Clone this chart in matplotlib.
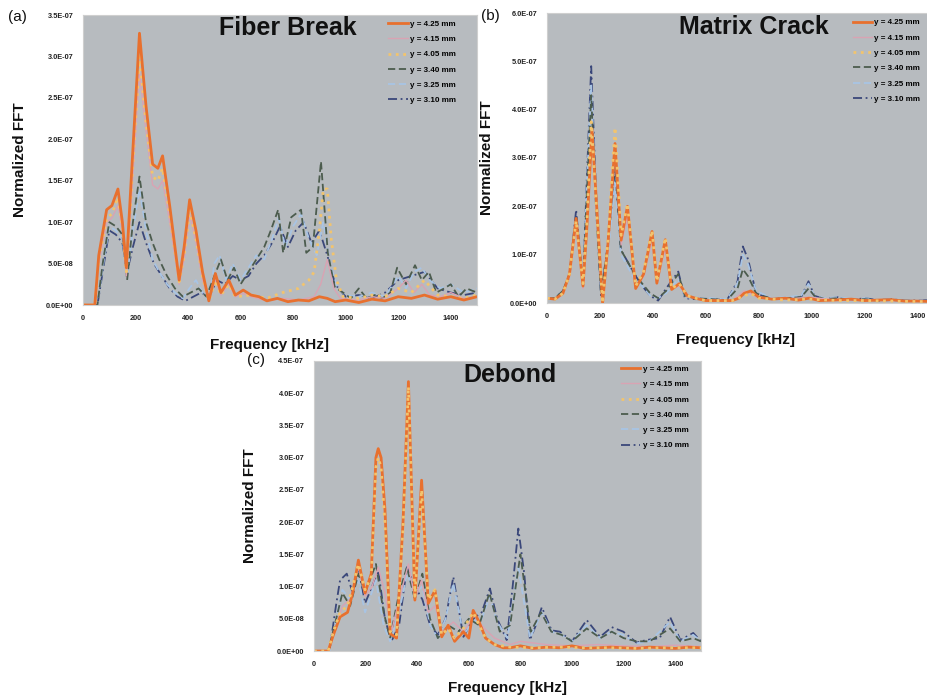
import matplotlib
matplotlib.use("Agg")
import matplotlib.pyplot as plt
from matplotlib.lines import Line2D
from matplotlib.ticker import FuncFormatter, MultipleLocator

plt.rcParams['font.family'] = ['Liberation Sans', 'DejaVu Sans']

LABELS = ["y = 4.25 mm", "y = 4.15 mm", "y = 4.05 mm", "y = 3.40 mm", "y = 3.25 mm", "y = 3.10 mm"]
TITLES = ["Fiber Break", "Matrix Crack", "Debond"]
PANEL_TAGS = ["(a)", "(b)", "(c)"]
SCALE = 1e-7

# ---------------- Panel (a) Fiber Break (values in 1e-7) ----------------
a425_f = [0, 45, 60, 90, 110, 133, 150, 165, 185, 215, 240, 265, 285, 303, 330, 366, 385, 406, 430, 455, 479, 504, 525, 555, 580, 610, 640, 670, 700, 740, 780, 820, 860, 900, 930, 960, 1000, 1050, 1100, 1150, 1200, 1250, 1300, 1350, 1400, 1450, 1500]
a425_v = [0, 0, 0.6, 1.15, 1.2, 1.4, 1.0, 0.45, 1.6, 3.28, 2.4, 1.7, 1.65, 1.8, 1.2, 0.3, 0.7, 1.27, 0.9, 0.4, 0.05, 0.38, 0.15, 0.3, 0.12, 0.18, 0.12, 0.1, 0.05, 0.08, 0.04, 0.06, 0.05, 0.1, 0.08, 0.04, 0.06, 0.03, 0.07, 0.05, 0.1, 0.08, 0.12, 0.07, 0.1, 0.06, 0.1]
a415_f = [0, 45, 60, 90, 110, 133, 150, 165, 185, 215, 240, 265, 285, 303, 330, 366, 385, 406, 430, 455, 479, 504, 525, 555, 580, 610, 640, 700, 760, 820, 880, 905, 930, 955, 980, 1050, 1100, 1150, 1200, 1230, 1260, 1290, 1320, 1360, 1400, 1450, 1500]
a415_v = [0, 0, 0.5, 1.0, 1.05, 1.2, 0.9, 0.35, 1.3, 2.8, 2.1, 1.45, 1.4, 1.5, 1.0, 0.25, 0.55, 1.1, 0.75, 0.3, 0.05, 0.3, 0.12, 0.25, 0.1, 0.14, 0.1, 0.05, 0.08, 0.06, 0.1, 0.25, 0.55, 0.2, 0.08, 0.06, 0.1, 0.08, 0.2, 0.3, 0.15, 0.25, 0.12, 0.1, 0.15, 0.08, 0.1]
a405_f = [0, 45, 60, 90, 110, 133, 150, 165, 185, 215, 240, 265, 285, 303, 330, 366, 385, 406, 430, 455, 479, 504, 525, 555, 580, 640, 700, 760, 820, 860, 880, 900, 915, 930, 945, 965, 990, 1050, 1100, 1150, 1200, 1250, 1300, 1350, 1400, 1450, 1500]
a405_v = [0, 0, 0.55, 1.05, 1.1, 1.3, 0.95, 0.4, 1.45, 3.0, 2.2, 1.55, 1.5, 1.65, 1.1, 0.28, 0.6, 1.15, 0.8, 0.35, 0.05, 0.3, 0.12, 0.25, 0.1, 0.12, 0.08, 0.15, 0.2, 0.3, 0.4, 0.9, 1.4, 1.4, 0.8, 0.3, 0.1, 0.08, 0.12, 0.1, 0.2, 0.15, 0.3, 0.12, 0.1, 0.08, 0.12]
a340_f = [0, 55, 75, 100, 125, 150, 168, 190, 215, 240, 265, 290, 320, 350, 380, 410, 440, 470, 500, 525, 550, 575, 600, 630, 660, 690, 715, 743, 762, 793, 830, 850, 875, 906, 932, 958, 990, 1020, 1050, 1080, 1110, 1140, 1170, 1196, 1230, 1264, 1290, 1317, 1345, 1375, 1400, 1430, 1460, 1500]
a340_v = [0, 0, 0.5, 1.0, 0.95, 0.85, 0.3, 1.0, 1.55, 1.0, 0.75, 0.55, 0.35, 0.2, 0.1, 0.15, 0.2, 0.1, 0.35, 0.55, 0.3, 0.45, 0.25, 0.4, 0.55, 0.7, 0.9, 1.15, 0.63, 1.06, 1.15, 0.63, 0.7, 1.73, 0.63, 0.22, 0.15, 0.08, 0.2, 0.08, 0.12, 0.08, 0.15, 0.45, 0.25, 0.48, 0.3, 0.4, 0.15, 0.2, 0.25, 0.1, 0.2, 0.15]
a325_f = [0, 55, 75, 100, 125, 150, 168, 190, 215, 240, 265, 290, 320, 350, 380, 405, 430, 455, 480, 500, 520, 545, 570, 600, 630, 660, 690, 720, 745, 770, 800, 830, 860, 890, 915, 940, 970, 1000, 1050, 1100, 1150, 1200, 1230, 1260, 1290, 1320, 1360, 1400, 1450, 1500]
a325_v = [0, 0, 0.45, 0.95, 0.9, 0.8, 0.35, 0.9, 1.4, 0.9, 0.55, 0.4, 0.25, 0.15, 0.08, 0.2, 0.3, 0.15, 0.05, 0.5, 0.6, 0.3, 0.5, 0.3, 0.45, 0.6, 0.55, 0.8, 1.05, 0.7, 0.95, 1.1, 0.8, 0.6, 1.0, 0.5, 0.2, 0.12, 0.1, 0.15, 0.1, 0.35, 0.2, 0.4, 0.45, 0.3, 0.2, 0.25, 0.15, 0.2]
a310_f = [0, 55, 75, 100, 125, 150, 168, 190, 215, 240, 270, 300, 330, 360, 390, 420, 450, 480, 510, 540, 570, 600, 630, 660, 690, 720, 750, 780, 810, 840, 870, 900, 930, 960, 1000, 1050, 1100, 1150, 1200, 1250, 1300, 1350, 1400, 1450, 1500]
a310_v = [0, 0, 0.4, 0.9, 0.85, 0.75, 0.4, 0.7, 1.0, 0.75, 0.5, 0.35, 0.2, 0.1, 0.05, 0.1, 0.15, 0.1, 0.3, 0.25, 0.35, 0.3, 0.35, 0.5, 0.6, 0.75, 0.95, 0.7, 0.9, 1.0, 0.75, 0.9, 0.6, 0.25, 0.1, 0.12, 0.08, 0.15, 0.3, 0.35, 0.4, 0.2, 0.15, 0.12, 0.15]

# ---------------- Panel (b) Matrix Crack (values in 1e-7) ----------------
b425_f = [0, 30, 60, 85, 110, 136, 150, 170, 190, 210, 230, 257, 280, 304, 335, 365, 397, 415, 447, 471, 500, 530, 560, 600, 650, 700, 725, 745, 770, 800, 850, 900, 950, 990, 1030, 1080, 1150, 1200, 1250, 1300, 1350, 1400, 1450, 1500]
b425_v = [0.1, 0.08, 0.2, 0.6, 1.75, 0.35, 1.5, 3.6, 1.8, 0.0, 1.2, 3.3, 1.3, 2.0, 0.3, 0.6, 1.48, 0.41, 1.31, 0.28, 0.4, 0.15, 0.1, 0.05, 0.05, 0.05, 0.1, 0.2, 0.25, 0.12, 0.08, 0.1, 0.06, 0.1, 0.05, 0.06, 0.08, 0.05, 0.06, 0.07, 0.04, 0.04, 0.03, 0.03]
b415_f = [0, 30, 60, 85, 110, 136, 150, 170, 190, 210, 230, 257, 280, 304, 335, 365, 397, 415, 447, 471, 500, 530, 560, 600, 700, 745, 770, 800, 900, 990, 1100, 1200, 1300, 1400, 1500]
b415_v = [0.1, 0.08, 0.2, 0.55, 1.6, 0.3, 1.4, 3.4, 1.6, 0.05, 1.1, 3.1, 1.2, 1.8, 0.35, 0.55, 1.3, 0.4, 1.15, 0.3, 0.35, 0.15, 0.1, 0.06, 0.05, 0.25, 0.2, 0.1, 0.08, 0.12, 0.06, 0.06, 0.05, 0.04, 0.03]
b405_f = [0, 30, 60, 85, 110, 136, 150, 167, 190, 210, 232, 257, 280, 304, 335, 365, 397, 415, 447, 471, 500, 530, 560, 600, 700, 745, 770, 800, 900, 990, 1100, 1200, 1300, 1400, 1500]
b405_v = [0.1, 0.08, 0.2, 0.6, 1.7, 0.4, 1.6, 3.75, 1.7, 0.0, 1.4, 3.63, 1.4, 2.05, 0.35, 0.65, 1.5, 0.45, 1.35, 0.3, 0.4, 0.15, 0.1, 0.05, 0.05, 0.15, 0.2, 0.1, 0.06, 0.08, 0.05, 0.05, 0.04, 0.03, 0.03]
b340_f = [0, 30, 60, 85, 110, 136, 150, 167, 185, 204, 230, 257, 279, 300, 330, 360, 390, 420, 450, 496, 521, 560, 620, 680, 720, 740, 760, 790, 850, 900, 960, 988, 1010, 1050, 1100, 1150, 1200, 1250, 1300, 1350, 1400, 1450, 1500]
b340_v = [0.1, 0.1, 0.25, 0.6, 1.8, 0.4, 2.2, 4.3, 2.0, 0.2, 1.2, 3.0, 1.1, 0.9, 0.6, 0.4, 0.2, 0.1, 0.25, 0.6, 0.15, 0.1, 0.08, 0.06, 0.3, 0.7, 0.55, 0.2, 0.08, 0.1, 0.12, 0.3, 0.15, 0.08, 0.1, 0.06, 0.08, 0.05, 0.06, 0.05, 0.04, 0.05, 0.04]
b325_f = [0, 30, 60, 85, 110, 136, 150, 167, 185, 204, 230, 257, 279, 300, 330, 360, 390, 420, 450, 496, 521, 560, 620, 680, 720, 740, 760, 790, 850, 900, 960, 988, 1010, 1050, 1100, 1150, 1200, 1250, 1300, 1350, 1400, 1450, 1500]
b325_v = [0.12, 0.1, 0.25, 0.55, 1.7, 0.45, 2.4, 4.5, 2.2, 0.25, 1.0, 2.5, 1.0, 0.8, 0.5, 0.35, 0.15, 0.1, 0.2, 0.5, 0.12, 0.1, 0.1, 0.08, 0.4, 1.0, 0.8, 0.25, 0.1, 0.12, 0.15, 0.4, 0.15, 0.1, 0.12, 0.08, 0.1, 0.06, 0.08, 0.06, 0.05, 0.06, 0.05]
b310_f = [0, 30, 60, 85, 110, 136, 150, 167, 185, 204, 230, 257, 279, 300, 330, 360, 390, 420, 450, 496, 521, 560, 620, 680, 720, 740, 760, 790, 850, 900, 960, 988, 1010, 1050, 1100, 1150, 1200, 1250, 1300, 1350, 1400, 1450, 1500]
b310_v = [0.1, 0.1, 0.25, 0.55, 1.93, 0.35, 2.5, 4.9, 2.3, 0.14, 1.2, 2.8, 1.1, 0.9, 0.6, 0.35, 0.15, 0.05, 0.3, 0.65, 0.1, 0.08, 0.08, 0.06, 0.45, 1.17, 0.9, 0.2, 0.08, 0.1, 0.12, 0.45, 0.15, 0.08, 0.12, 0.06, 0.1, 0.06, 0.08, 0.05, 0.05, 0.06, 0.05]

# ---------------- Panel (c) Debond (values in 1e-7) ----------------
c425_f = [0, 55, 75, 101, 130, 150, 172, 198, 222, 240, 249, 260, 275, 295, 320, 345, 366, 391, 417, 443, 469, 495, 520, 545, 579, 600, 617, 640, 665, 700, 733, 760, 800, 850, 900, 950, 1000, 1050, 1100, 1150, 1200, 1250, 1300, 1350, 1400, 1450, 1500]
c425_v = [0, 0, 0.25, 0.53, 0.6, 0.9, 1.41, 0.9, 1.2, 3.0, 3.14, 3.0, 2.2, 0.27, 0.2, 2.0, 4.18, 0.79, 2.65, 0.74, 0.94, 0.22, 0.4, 0.15, 0.3, 0.2, 0.63, 0.45, 0.2, 0.1, 0.05, 0.05, 0.08, 0.04, 0.06, 0.05, 0.08, 0.04, 0.05, 0.06, 0.05, 0.04, 0.06, 0.05, 0.04, 0.06, 0.05]
c415_f = [0, 55, 80, 110, 140, 172, 198, 225, 249, 275, 300, 330, 366, 391, 417, 443, 469, 495, 540, 580, 620, 660, 700, 760, 800, 900, 1000, 1100, 1200, 1300, 1400, 1500]
c415_v = [0, 0, 0.3, 0.7, 0.8, 1.3, 0.85, 1.0, 1.3, 0.9, 0.3, 0.8, 1.35, 0.8, 1.1, 0.6, 0.7, 0.3, 0.45, 0.3, 0.55, 0.35, 0.2, 0.1, 0.15, 0.1, 0.08, 0.1, 0.08, 0.07, 0.09, 0.07]
c405_f = [0, 55, 75, 101, 130, 150, 172, 198, 222, 240, 249, 260, 275, 295, 320, 345, 366, 391, 417, 443, 469, 495, 520, 545, 579, 617, 640, 665, 700, 760, 850, 950, 1050, 1150, 1250, 1350, 1450, 1500]
c405_v = [0, 0, 0.3, 0.6, 0.7, 1.0, 1.35, 0.95, 1.15, 2.85, 3.0, 2.85, 2.0, 0.3, 0.25, 1.9, 4.1, 0.85, 2.5, 0.8, 0.95, 0.25, 0.35, 0.2, 0.35, 0.6, 0.4, 0.2, 0.1, 0.06, 0.05, 0.06, 0.05, 0.05, 0.04, 0.05, 0.05, 0.05]
c340_f = [0, 55, 80, 110, 140, 172, 198, 240, 270, 295, 330, 360, 391, 420, 450, 480, 520, 560, 600, 640, 680, 720, 760, 800, 840, 880, 920, 960, 1000, 1057, 1110, 1154, 1200, 1250, 1300, 1380, 1420, 1470, 1500]
c340_v = [0, 0, 0.4, 0.9, 0.7, 1.2, 0.9, 1.35, 0.6, 0.2, 0.9, 1.3, 0.8, 1.2, 0.5, 0.2, 0.4, 0.3, 0.5, 0.4, 0.9, 0.3, 0.4, 1.5, 0.3, 0.6, 0.3, 0.25, 0.15, 0.35, 0.2, 0.3, 0.2, 0.15, 0.15, 0.35, 0.15, 0.2, 0.15]
c325_f = [0, 60, 85, 110, 140, 172, 198, 240, 270, 295, 330, 360, 391, 420, 450, 480, 510, 540, 579, 617, 650, 682, 710, 750, 792, 837, 883, 921, 960, 1000, 1057, 1109, 1154, 1199, 1250, 1300, 1380, 1420, 1470, 1500]
c325_v = [0, 0, 0.5, 0.95, 0.8, 1.1, 0.6, 1.1, 0.4, 0.15, 0.6, 1.2, 0.9, 1.0, 0.4, 0.2, 0.5, 1.05, 0.25, 0.45, 0.5, 0.85, 0.45, 0.2, 1.3, 0.2, 0.6, 0.3, 0.25, 0.15, 0.4, 0.2, 0.3, 0.25, 0.12, 0.15, 0.45, 0.15, 0.25, 0.15]
c310_f = [0, 60, 85, 101, 127, 150, 172, 198, 225, 249, 275, 300, 330, 360, 391, 420, 450, 480, 510, 540, 579, 617, 650, 682, 710, 747, 770, 792, 815, 837, 860, 883, 921, 953, 1000, 1057, 1109, 1154, 1199, 1250, 1288, 1340, 1380, 1420, 1470, 1500]
c310_v = [0, 0, 0.7, 1.1, 1.2, 0.9, 1.3, 0.74, 1.0, 1.25, 0.5, 0.15, 0.4, 1.3, 1.0, 0.8, 0.4, 0.25, 0.5, 1.15, 0.22, 0.5, 0.6, 0.97, 0.5, 0.17, 1.0, 1.9, 1.2, 0.17, 0.4, 0.68, 0.32, 0.3, 0.15, 0.48, 0.22, 0.37, 0.3, 0.13, 0.17, 0.2, 0.53, 0.17, 0.28, 0.15]

X_TICKS = [0, 200, 400, 600, 800, 1000, 1200, 1400]
Y_MAX = [3.5e-7, 6.0e-7, 4.5e-7]
Y_STEP = [5e-8, 1e-7, 5e-8]

STYLES = [
    dict(color='#e8702e', lw=2.0, ls='-'),
    dict(color='#d9a3b3', lw=1.0, ls='-'),
    dict(color='#f2c46e', lw=2.0, ls=':'),
    dict(color='#4c5c4e', lw=1.3, ls=(0, (4, 2))),
    dict(color='#a8c4e4', lw=1.3, ls=(0, (4, 2))),
    dict(color='#3a477a', lw=1.3, ls=(0, (5, 2, 1, 2))),
]

panels = [
    [(a425_f, a425_v), (a415_f, a415_v), (a405_f, a405_v), (a340_f, a340_v), (a325_f, a325_v), (a310_f, a310_v)],
    [(b425_f, b425_v), (b415_f, b415_v), (b405_f, b405_v), (b340_f, b340_v), (b325_f, b325_v), (b310_f, b310_v)],
    [(c425_f, c425_v), (c415_f, c415_v), (c405_f, c405_v), (c340_f, c340_v), (c325_f, c325_v), (c310_f, c310_v)],
]

W, H = 927, 698
fig = plt.figure(figsize=(W / 100, H / 100), dpi=100)
fig.patch.set_facecolor('white')

# axes boxes in pixels: left, top, right, bottom
boxes = [(83, 15, 477, 305), (547, 13, 944, 303), (314, 361, 701, 651)]
legend_anchor = [(0.775, 0.982), (0.77, 0.98), (0.793, 0.985)]
title_pos = [(0.52, 0.955), (0.52, 0.95), (0.506, 0.95)]
tag_pos = [(17, 17), (490, 16), (256, 360)]
xlabel_pos = [270, 735, 507]
xlabel_y = [345, 340, 688]
ylabel_x = [20, 487, 250]

def fmt(v, pos):
    return f"{v:.1E}"

for i, series in enumerate(panels):
    l, t, r, b = boxes[i]
    ax = fig.add_axes([l / W, 1 - b / H, (r - l) / W, (b - t) / H])
    ax.set_facecolor('#b7bbbf')
    order = [5, 4, 3, 1, 2, 0] if i == 0 else [5, 4, 3, 1, 0, 2]
    for j in order:
        f, v = series[j]
        ax.plot(f, [x * SCALE for x in v], **STYLES[j])
    ax.set_xlim(0, 1500)
    ax.set_ylim(0, Y_MAX[i])
    ax.set_xticks(X_TICKS)
    ax.yaxis.set_major_locator(MultipleLocator(Y_STEP[i]))
    ax.yaxis.set_major_formatter(FuncFormatter(fmt))
    ax.tick_params(axis='both', length=0, labelsize=5.3, colors='#222222', pad=7)
    for lab in ax.get_xticklabels() + ax.get_yticklabels():
        lab.set_fontweight('bold')
    for s in ax.spines.values():
        s.set_color('#cfcfcf')
        s.set_linewidth(0.8)
    ax.text(*title_pos[i], TITLES[i], transform=ax.transAxes, ha='center', va='center',
            fontsize=18, fontweight='bold', color='#111111')
    handles = [Line2D([0], [0], **STYLES[j]) for j in range(6)]
    ax.legend(handles, LABELS, loc='upper left', bbox_to_anchor=legend_anchor[i],
              frameon=False, labelspacing=0.95, handlelength=2.4,
              handletextpad=0.3, borderpad=0, borderaxespad=0,
              prop={'weight': 'bold', 'size': 5.8})
    fig.text(xlabel_pos[i] / W, 1 - xlabel_y[i] / H, "Frequency [kHz]", ha='center', va='center',
             fontsize=11, fontweight='bold', color='#111111')
    fig.text(ylabel_x[i] / W, 1 - ((t + b) / 2) / H, "Normalized FFT", ha='center', va='center',
             rotation=90, fontsize=11, fontweight='bold', color='#111111')
    fig.text(tag_pos[i][0] / W, 1 - tag_pos[i][1] / H, PANEL_TAGS[i], ha='center', va='center',
             fontsize=11, color='#111111')

fig.savefig("out.png", dpi=100)
